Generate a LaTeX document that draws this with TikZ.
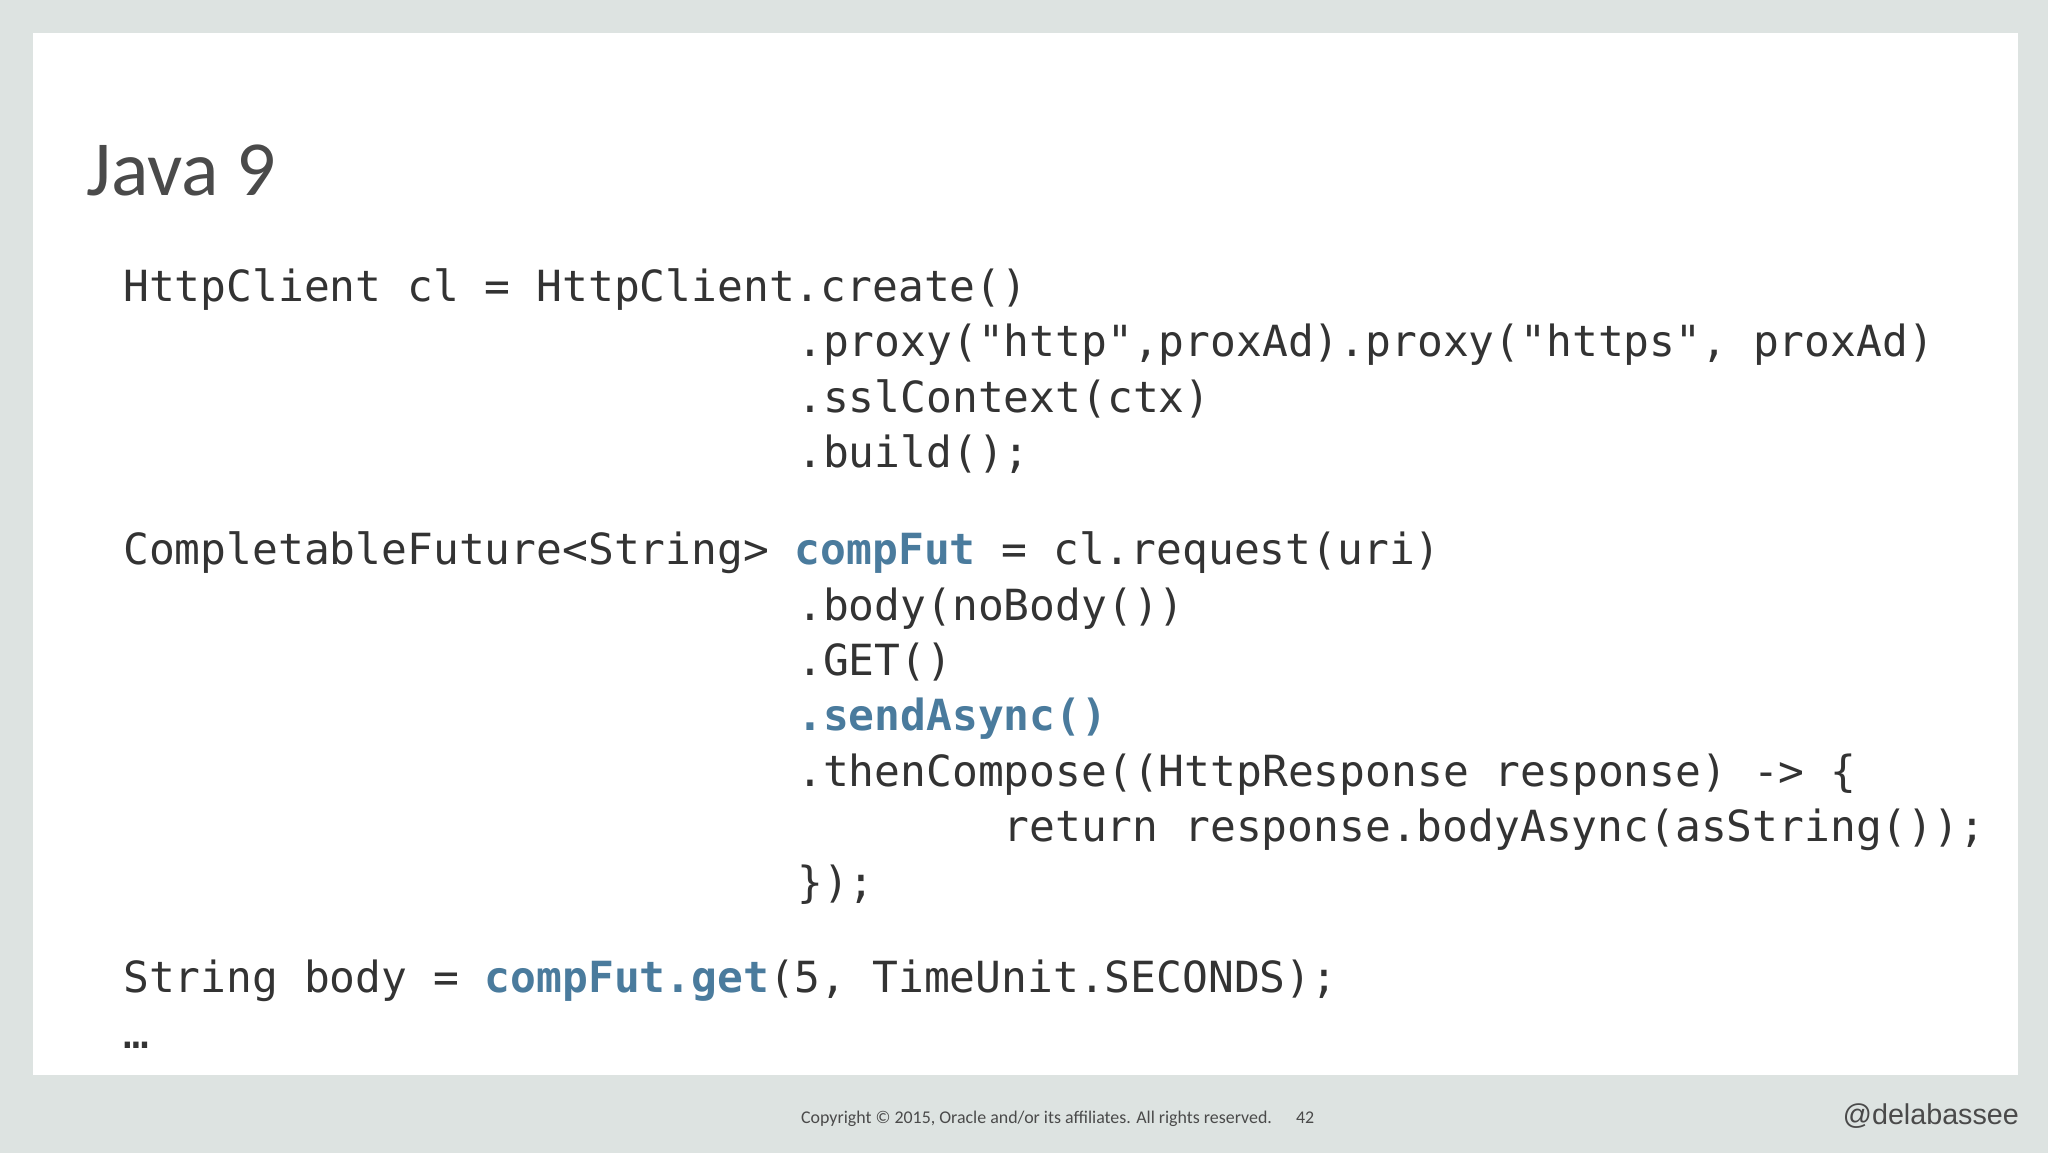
\documentclass[tikz,border=0pt]{standalone}
\usepackage{fontspec}
\setmainfont{Carlito}
\setmonofont{DejaVu Sans Mono}
\newfontfamily\handlefont{Liberation Sans}
\definecolor{bg}{HTML}{DDE3E1}
\definecolor{code}{HTML}{333333}
\definecolor{hl}{HTML}{4A7B9D}
\definecolor{ttl}{HTML}{4A4A4A}
\begin{document}
\begin{tikzpicture}[x=0.02cm,y=-0.02cm,
  cl/.style={anchor=base west,inner sep=0,text=code,font=\ttfamily\fontsize{18.7}{20}\selectfont},
  hlt/.style={font=\ttfamily\bfseries\fontsize{18.7}{20}\selectfont,text=hl}]
\fill[bg] (0,0) rectangle (1568,883);
\fill[white] (25,25) rectangle (1545,823);
\useasboundingbox (0,0) rectangle (1568,883);
\node[anchor=base west,inner sep=0,text=ttl,font=\fontsize{34}{40}\selectfont] (title) at (66,150) {Java 9};
\def\a{94}\def\b{610}\def\c{768}
\node[cl] (l1) at (\a,231) {HttpClient cl = HttpClient.create()};
\node[cl] (l2) at (\b,273) {.proxy("http",proxAd).proxy("https", proxAd)};
\node[cl] (l3) at (\b,316) {.sslContext(ctx)};
\node[cl] (l4) at (\b,358) {.build();};
\node[cl] (l5) at (\a,432) {CompletableFuture<String> {\color{hl}\bfseries compFut} = cl.request(uri)};
\node[cl] (l6) at (\b,475) {.body(noBody())};
\node[cl] (l7) at (\b,517) {.GET()};
\node[cl,hlt] (l8) at (\b,559) {.sendAsync()};
\node[cl] (l9) at (\b,602) {.thenCompose((HttpResponse response) -> \{};
\node[cl] (l10) at (\c,644) {return response.bodyAsync(asString());};
\node[cl] (l11) at (\b,687) {\});};
\node[cl] (l12) at (\a,760) {String body = {\color{hl}\bfseries compFut.get}(5, TimeUnit.SECONDS);};
\node[cl] (l13) at (\a,803) {…};
\node[anchor=base west,inner sep=0,text=ttl,font=\fontsize{7.8}{10}\selectfont] (copy) at (613,860) {Copyright © 2015, Oracle and/or its affiliates. All rights reserved.};
\node[anchor=base west,inner sep=0,text=ttl,font=\fontsize{7.8}{10}\selectfont] (pg) at (992,860) {42};
\node[anchor=base east,inner sep=0,text=ttl,font=\handlefont\fontsize{12.5}{16}\selectfont] (handle) at (1546,861) {@delabassee};
\end{tikzpicture}
\end{document}
